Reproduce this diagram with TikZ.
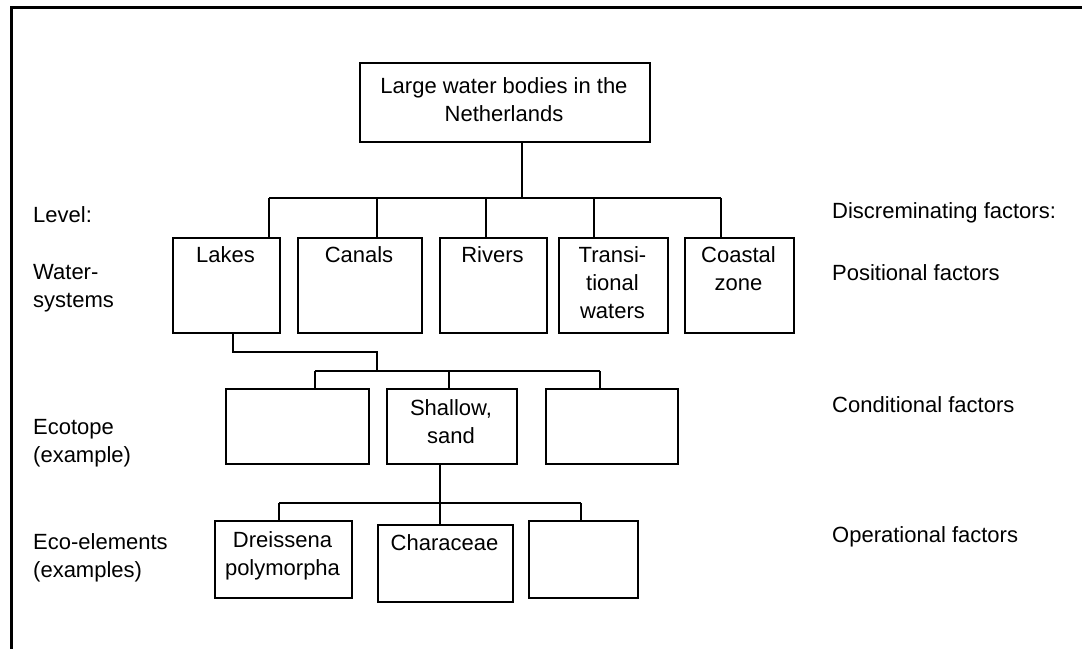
\documentclass[tikz,border=0pt]{standalone}
\usepackage{fontspec}
\setmainfont{Liberation Sans}
\begin{document}
\begin{tikzpicture}[x=1pt,y=-1pt,
  box/.style={draw, line width=2pt, inner sep=0pt, anchor=north west},
  txt/.style={font=\fontsize{22}{28}\selectfont, align=center, inner sep=0pt},
  lbl/.style={font=\fontsize{22}{28}\selectfont, align=left, anchor=west, inner sep=0pt},
  conn/.style={line width=2pt}]
\useasboundingbox (0,0) rectangle (1082,649);
% frame
\coordinate (fr1) at (1082,7);
\coordinate (fr2) at (11,7);
\coordinate (fr3) at (11,649);
\draw[line width=3pt] (fr1) -- (fr2) -- (fr3);
% top box
\node[box, minimum width=290pt, minimum height=79pt] (top) at (359,62) {};
\node[txt] (topT) at (504,100) {Large water bodies in the\\Netherlands};
% water systems
\node[box, minimum width=107pt, minimum height=95pt] (lakes) at (172,237) {};
\node[box, minimum width=124pt, minimum height=95pt] (canals) at (297,237) {};
\node[box, minimum width=107pt, minimum height=95pt] (rivers) at (439,237) {};
\node[box, minimum width=109pt, minimum height=95pt] (trans) at (558,237) {};
\node[box, minimum width=109pt, minimum height=95pt] (coast) at (684,237) {};
\node[txt] (lakesT) at (225.5,255) {Lakes};
\node[txt] (canalsT) at (359,255) {Canals};
\node[txt] (riversT) at (492.5,255) {Rivers};
\node[txt] (transT) at (612.5,283) {Transi-\\tional\\waters};
\node[txt] (coastT) at (738.5,269) {Coastal\\zone};
% ecotopes
\node[box, minimum width=143pt, minimum height=75pt] (eco1) at (225,388) {};
\node[box, minimum width=130pt, minimum height=75pt] (eco2) at (386,388) {};
\node[box, minimum width=132pt, minimum height=75pt] (eco3) at (545,388) {};
\node[txt] (eco2T) at (451,421.5) {Shallow,\\sand};
% eco-elements
\node[box, minimum width=137pt, minimum height=77pt] (el1) at (214,520) {};
\node[box, minimum width=135pt, minimum height=77pt] (el2) at (377,524) {};
\node[box, minimum width=109pt, minimum height=77pt] (el3) at (528,520) {};
\node[txt] (el1T) at (282.5,555.5) {Dreissena\\polymorpha};
\node[txt] (el2T) at (444.5,543) {Characeae};
% connectors level 1
\coordinate (c0) at (522,198);
\coordinate (b1) at (269,198);
\coordinate (b2) at (377,198);
\coordinate (b3) at (486,198);
\coordinate (b4) at (594,198);
\coordinate (b5) at (721,198);
\draw[conn] (c0 |- top.south) -- (c0);
\draw[conn] (b1) -- (b5);
\draw[conn] (b1) -- (b1 |- lakes.north);
\draw[conn] (b2) -- (b2 |- canals.north);
\draw[conn] (b3) -- (b3 |- rivers.north);
\draw[conn] (b4) -- (b4 |- trans.north);
\draw[conn] (b5) -- (b5 |- coast.north);
% connectors level 2
\coordinate (l1) at (233,352);
\coordinate (l2) at (377,352);
\coordinate (l3) at (377,371);
\coordinate (e1) at (315,371);
\coordinate (e2) at (449,371);
\coordinate (e3) at (600,371);
\draw[conn] (l1 |- lakes.south) -- (l1) -- (l2) -- (l3);
\draw[conn] (e1) -- (e3);
\draw[conn] (e1) -- (e1 |- eco1.north);
\draw[conn] (e2) -- (e2 |- eco2.north);
\draw[conn] (e3) -- (e3 |- eco3.north);
% connectors level 3
\coordinate (m0) at (440,503);
\coordinate (m1) at (279,503);
\coordinate (m3) at (581,503);
\draw[conn] (m0 |- eco2.south) -- (m0 |- el2.north);
\draw[conn] (m1) -- (m3);
\draw[conn] (m1) -- (m1 |- el1.north);
\draw[conn] (m3) -- (m3 |- el3.north);
% left labels
\node[lbl] (lv) at (33,215) {Level:};
\node[lbl] (ws) at (33,288) {Water-\\systems};
\node[lbl] (et) at (33,443) {Ecotope\\(example)};
\node[lbl] (ee) at (33,558) {Eco-elements\\(examples)};
% right labels
\node[lbl] (df) at (832,213) {Discreminating factors:};
\node[lbl] (pf) at (832,273) {Positional factors};
\node[lbl] (cf) at (832,405) {Conditional factors};
\node[lbl] (of) at (832,537) {Operational factors};
\end{tikzpicture}
\end{document}
